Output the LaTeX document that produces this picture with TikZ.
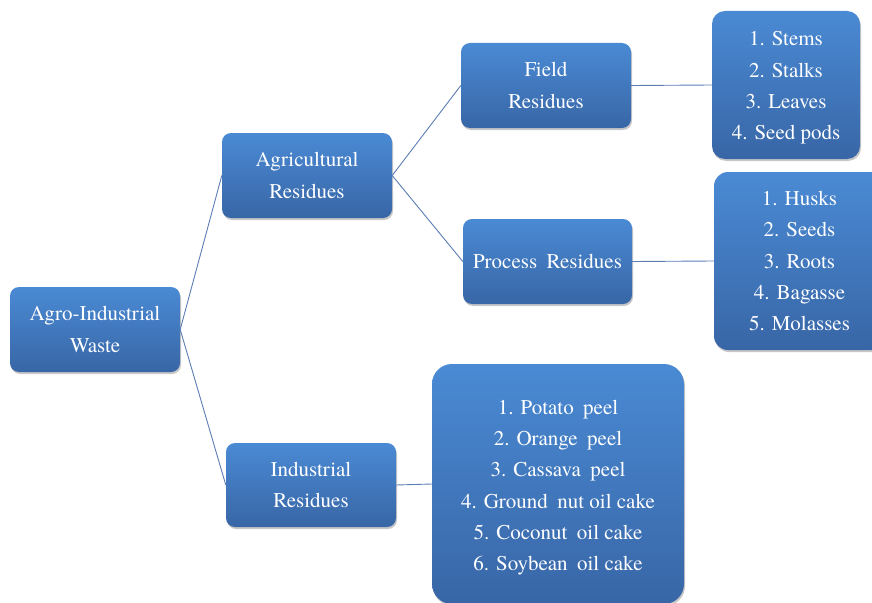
\documentclass[tikz,border=0pt]{standalone}
\usepackage{fontspec}
\newfontfamily\boxfont{texgyretermes}[Extension=.otf, UprightFont=*-regular]
\usetikzlibrary{shadows}
\definecolor{boxtop}{RGB}{74,138,212}
\definecolor{boxbot}{RGB}{56,102,166}
\definecolor{linkc}{RGB}{92,124,180}
\newcommand\wsp{\hspace{0.45em}}
\tikzset{
  boxtext/.style={text=white, align=center, inner sep=0pt,
    font=\boxfont\fontsize{21}{31.3}\selectfont},
  box/.style={rectangle, rounded corners=#1, top color=boxtop, bottom color=boxbot,
    draw=none, boxtext,
    drop shadow={shadow xshift=1pt, shadow yshift=-2pt, opacity=0.22, fill=black}},
  box/.default=9pt,
  link/.style={draw=linkc, line width=0.9pt}
}
\begin{document}
\begin{tikzpicture}[x=1pt,y=-1pt]
\useasboundingbox (0,0) rectangle (872,602);
\clip (0,0) rectangle (872,602);
\node[box, minimum width=170pt, minimum height=85pt] (agro) at (95,329.5) {Agro-Industrial\\Waste};
\node[box, minimum width=170pt, minimum height=85pt] (agri) at (307,175.5) {Agricultural\\Residues};
\node[box, minimum width=170pt, minimum height=84pt] (ind) at (311,485) {Industrial\\Residues};
\node[box, minimum width=170pt, minimum height=85pt] (field) at (546,85.5) {Field\\Residues};
\node[box, minimum width=169pt, minimum height=85pt] (proc) at (547.5,261.5) {Process\wsp Residues};
\node[box=13pt, minimum width=148pt, minimum height=148pt] (l1) at (786,85) {};
\node[boxtext, yshift=-3pt] (l1t) at (l1.center)
  {1. Stems\\2. Stalks\\3. Leaves\\4. Seed pods};
\node[box=14pt, minimum width=171pt, minimum height=178pt] (l2) at (799.5,261)
  {1. Husks\\2. Seeds\\3. Roots\\4. Bagasse\\5. Molasses};
\node[box=20pt, minimum width=252pt, minimum height=240pt] (l3) at (558,484) {};
\node[boxtext, yshift=-3.5pt] (l3t) at (l3.center)
  {1. Potato\wsp peel\\2. Orange\wsp peel\\3. Cassava\wsp peel\\4. Ground\wsp nut oil cake\\5. Coconut\wsp oil cake\\6. Soybean\wsp oil cake};
\draw[link] (agro.east) -- (agri.west);
\draw[link] (agro.east) -- (ind.west);
\draw[link] (agri.east) -- (field.west);
\draw[link] (agri.east) -- (proc.west);
\draw[link] (field.east) -- (l1.west);
\draw[link] (proc.east) -- (l2.west);
\draw[link] (ind.east) -- (l3.west);
\end{tikzpicture}
\end{document}
